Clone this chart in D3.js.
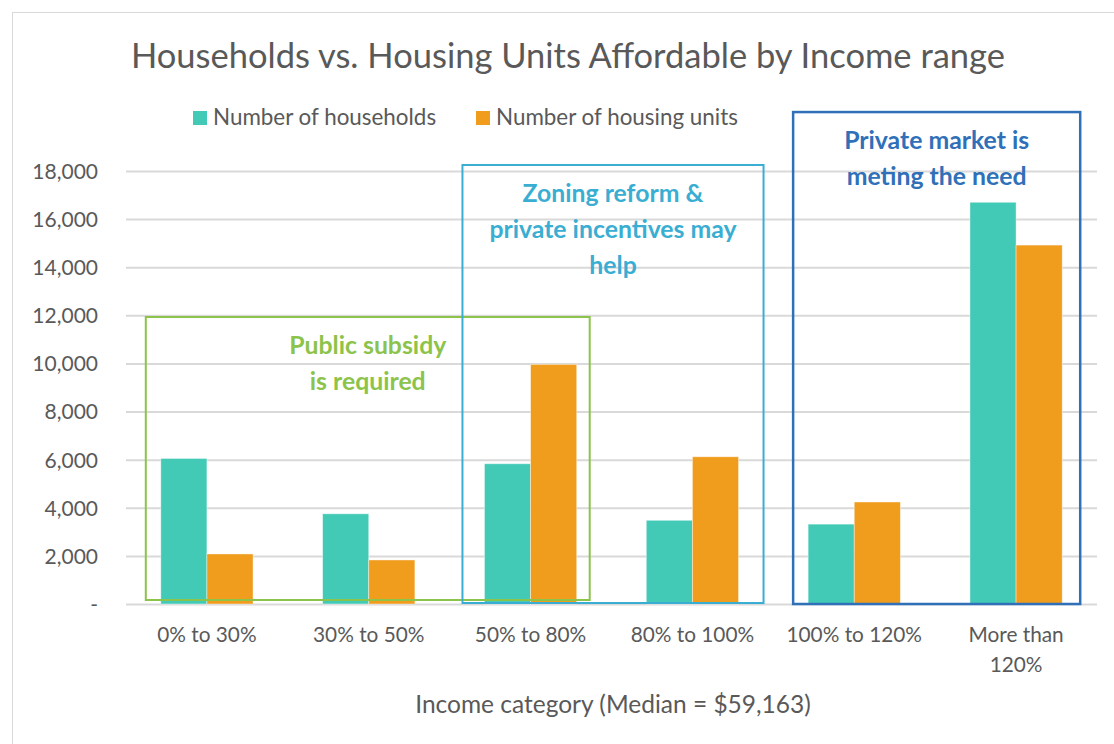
<!DOCTYPE html>
<html>
<head>
<meta charset="utf-8">
<script src="https://cdn.jsdelivr.net/npm/d3@7"></script>
<style>
  body { margin: 0; background: #fff; }
  text { font-family: Lato, "Open Sans", sans-serif; fill: #595959; }
</style>
</head>
<body>
<script>
var categories = ["0% to 30%", "30% to 50%", "50% to 80%", "80% to 100%", "100% to 120%", "More than 120%"];
var categoryLines = [["0% to 30%"], ["30% to 50%"], ["50% to 80%"], ["80% to 100%"], ["100% to 120%"], ["More than", "120%"]];
var seriesNames = ["Number of households", "Number of housing units"];
var households = [6050, 3750, 5830, 3480, 3320, 16700];
var housingUnits = [2080, 1830, 9960, 6120, 4240, 14920];
var yTicks = [0, 2000, 4000, 6000, 8000, 10000, 12000, 14000, 16000, 18000];
var boxLabels = [
  { from: 0, to: 2, top: 11930, lines: ["Public subsidy", "is required"] },
  { from: 2, to: 3, top: 18250, lines: ["Zoning reform &", "private incentives may", "help"] },
  { from: 4, to: 5, top: 20450, lines: ["Private market is", "meting the need"] }
];

var width = 1114, height = 744;
var colors = ["#43cab7", "#f09c1d"];
var boxColors = ["#8cc34b", "#3aaed2", "#2f70b9"];
var boxPad = [[15, 13], [22, 25], [15, 18]];
var boxBottom = [4, 1, 0];

var svg = d3.select("body").append("svg")
  .attr("width", width)
  .attr("height", height);

// outer chart frame
svg.append("rect")
  .attr("x", 12.5).attr("y", 12.5)
  .attr("width", 1130).attr("height", 760)
  .style("fill", "none")
  .style("stroke", "#d9d9d9");

var x0 = d3.scaleBand()
  .domain(categories)
  .range([126, 1097])
  .paddingInner(0.43)
  .paddingOuter(0.215);

var x1 = d3.scaleBand()
  .domain(seriesNames)
  .range([0, x0.bandwidth()]);

var y = d3.scaleLinear()
  .domain([0, 18000])
  .range([604, 171]);

// gridlines
var yAxis = d3.axisLeft(y)
  .tickValues(yTicks)
  .tickSize(-(1097 - 126))
  .tickFormat(function (d) { return d === 0 ? "-" : d3.format(",")(d); });

var gAxis = svg.append("g")
  .attr("transform", "translate(126,0)")
  .call(yAxis);
gAxis.select(".domain").remove();
gAxis.selectAll(".tick line")
  .style("stroke", "#d9d9d9")
  .style("stroke-width", 2);
gAxis.selectAll(".tick text")
  .attr("x", -28)
  .attr("dy", "0.35em")
  .style("font-size", "21px")
  .style("fill", "#595959")
  .style("font-family", "Lato, sans-serif");

// bars
var groups = svg.selectAll("g.cat")
  .data(categories)
  .enter()
  .append("g")
  .attr("class", "cat")
  .attr("transform", function (d) { return "translate(" + x0(d) + ",0)"; });

groups.selectAll("rect")
  .data(function (d, i) { return [
    { s: seriesNames[0], v: households[i], c: colors[0] },
    { s: seriesNames[1], v: housingUnits[i], c: colors[1] }
  ]; })
  .enter()
  .append("rect")
  .attr("x", function (d) { return x1(d.s); })
  .attr("width", x1.bandwidth())
  .attr("y", function (d) { return y(d.v); })
  .attr("height", function (d) { return y(0) - y(d.v); })
  .style("fill", function (d) { return d.c; })
  .style("stroke", "#ffffff")
  .style("stroke-opacity", 0.5)
  .style("stroke-width", 0.8);

// annotation boxes
boxLabels.forEach(function (b, i) {
  var left = x0(categories[b.from]) - boxPad[i][0];
  var right = x0(categories[b.to]) + x0.bandwidth() + boxPad[i][1];
  var top = y(b.top);
  var bottom = y(0) - boxBottom[i];
  svg.append("rect")
    .attr("x", left).attr("y", top)
    .attr("width", right - left).attr("height", bottom - top)
    .style("fill", "none")
    .style("stroke", boxColors[i])
    .style("stroke-width", i === 2 ? 2.5 : 2);
  var t = svg.append("text")
    .attr("text-anchor", "middle")
    .style("font-size", "24.8px")
    .style("font-weight", "bold")
    .style("fill", boxColors[i]);
  b.lines.forEach(function (line, j) {
    t.append("tspan")
      .attr("x", (left + right) / 2)
      .attr("y", top + 37 + j * 36)
      .text(line);
  });
});

// x labels
var xl = svg.selectAll("text.xlabel")
  .data(categoryLines)
  .enter()
  .append("text")
  .attr("class", "xlabel")
  .attr("text-anchor", "middle")
  .style("font-size", "20.8px");
xl.selectAll("tspan")
  .data(function (d, i) { return d.map(function (l) { return { l: l, c: categories[i] }; }); })
  .enter()
  .append("tspan")
  .attr("x", function (d) { return x0(d.c) + x0.bandwidth() / 2; })
  .attr("y", function (d, j) { return 642 + j * 30; })
  .text(function (d) { return d.l; });

// axis title
svg.append("text")
  .attr("x", 613).attr("y", 713)
  .attr("text-anchor", "middle")
  .style("font-size", "24.5px")
  .text("Income category (Median = $59,163)");

// title
svg.append("text")
  .attr("x", 568).attr("y", 68)
  .attr("text-anchor", "middle")
  .style("font-size", "34.5px")
  .text("Households vs. Housing Units Affordable by Income range");

// legend
var legendX = [193, 476];
var legend = svg.selectAll("g.legend")
  .data(seriesNames)
  .enter()
  .append("g")
  .attr("class", "legend")
  .attr("transform", function (d, i) { return "translate(" + legendX[i] + ",111)"; });
legend.append("rect")
  .attr("width", 14).attr("height", 14)
  .style("fill", function (d, i) { return colors[i]; });
legend.append("text")
  .attr("x", 20).attr("y", 14)
  .style("font-size", "22.4px")
  .text(function (d) { return d; });
</script>
</body>
</html>
